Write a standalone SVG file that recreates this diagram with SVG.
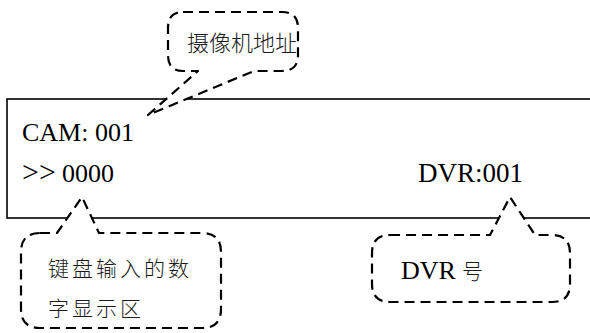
<svg xmlns="http://www.w3.org/2000/svg" width="590" height="333" viewBox="0 0 590 333">
<style>
.frame{fill:none;stroke:#000;stroke-width:1.6}
.callout{fill:#fff;stroke:#000;stroke-width:2.2;stroke-dasharray:10 6;stroke-linejoin:round}
.lat{font-family:"Liberation Serif","Times New Roman",serif;font-size:26px;fill:#000}
.cjk{font-family:"Noto Sans CJK SC","Liberation Serif",sans-serif;font-size:21px;font-weight:300;fill:#1a1a1a}
</style>
<rect width="590" height="333" fill="#fff"/>
<g id="display">
<rect class="frame" x="7" y="99" width="600" height="119"/>
<text class="lat" x="22" y="141">CAM: 001</text>
<text class="lat" x="22" y="182"><tspan style="font-size:30px">&gt;&gt;</tspan><tspan x="62">0000</tspan></text>
<text class="lat" x="418" y="182" style="font-size:27px">DVR:001</text>
</g>
<g id="connectors">
<path id="callout-cam" class="callout" d="M183,12 H282 Q298,12 298,28 V55 Q298,71 282,71 H254 L148,115 L198,71 H183 Q168,71 168,55 V28 Q168,12 183,12 Z"/>
<path id="callout-input" class="callout" d="M40,233 H57 L82,197 L99,233 H202 Q221,233 221,252 V309 Q221,328 202,328 H40 Q21,328 21,309 V252 Q21,233 40,233 Z"/>
<path id="callout-dvr" class="callout" d="M390,235 H490 L510,197 L535,235 H552 Q570,235 570,253 V284 Q570,302 552,302 H390 Q372,302 372,284 V253 Q372,235 390,235 Z"/>
</g>
<g id="label-cam">
<text class="cjk" x="187" y="51" style="font-size:22px">摄像机地址</text>
</g>
<g id="label-input">
<text class="cjk" x="48" y="276" letter-spacing="3">键盘输入的数</text>
<text class="cjk" x="48" y="316" letter-spacing="3">字显示区</text>
</g>
<g id="label-dvr">
<text class="lat" x="401" y="279" style="font-size:26px">DVR<tspan class="cjk" x="462" style="font-size:21px">号</tspan></text>
</g>
</svg>
